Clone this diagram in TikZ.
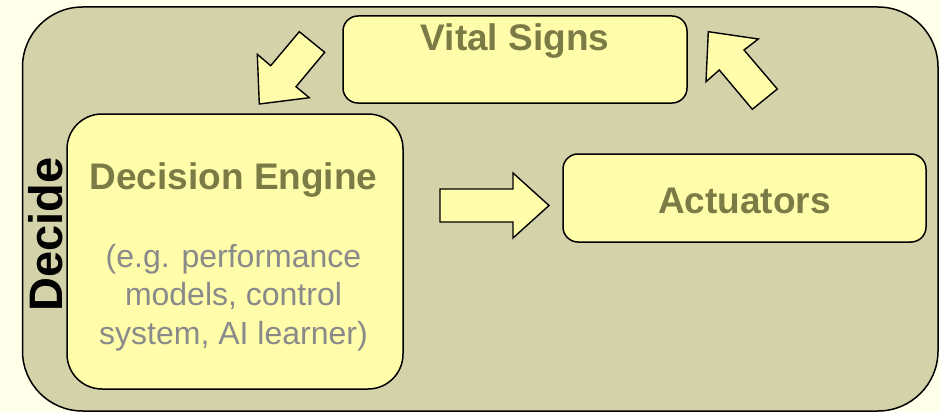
\documentclass[tikz,border=0pt]{standalone}
\usepackage{fontspec}
\setmainfont{Liberation Sans}

\definecolor{pagebg}{HTML}{FFFFEA}
\definecolor{panelfill}{HTML}{D4D2A9}
\definecolor{boxfill}{HTML}{FFFCAA}
\definecolor{titleink}{HTML}{7B7B46}
\definecolor{noteink}{HTML}{8A8A8A}

\tikzset{
  panel/.style={draw=black, line width=1.5pt, fill=panelfill, rounded corners=60pt, inner sep=0pt},
  stagebox/.style={draw=black, line width=1.5pt, fill=boxfill, inner sep=0pt},
  blockarrow/.style={draw=black, line width=1.4pt, fill=boxfill, line join=miter},
  title/.style={text=titleink, font=\fontsize{37}{44}\selectfont\bfseries, inner sep=0pt},
  note/.style={text=noteink, font=\fontsize{32}{38}\selectfont, inner sep=0pt},
  sidelabel/.style={text=black, font=\fontsize{47}{56}\selectfont\bfseries, inner sep=0pt}
}

\begin{document}
\begin{tikzpicture}[x=1pt, y=-1pt]
  \useasboundingbox (0,0) rectangle (940,412);
  \fill[pagebg] (0,0) rectangle (940,412);

  % outer "Decide" panel
  \node[panel, minimum width=915.5pt, minimum height=404pt] (panel) at (480.25,209) {};
  \node[sidelabel, rotate=90, anchor=base] (decide) at (62,234.5) {Decide};

  % stage boxes
  \node[stagebox, rounded corners=15pt, minimum width=344pt, minimum height=87pt] (vital) at (515,59.5) {};
  \node[stagebox, rounded corners=35pt, minimum width=336pt, minimum height=275pt] (engine) at (235,251.5) {};
  \node[stagebox, rounded corners=15pt, minimum width=363pt, minimum height=88pt] (act) at (744.5,198) {};

  % box texts
  \node[title, anchor=base] (vitaltxt) at (515,51) {Vital Signs};
  \node[title, anchor=base] (enginetxt) at (233.5,189) {Decision Engine};
  \node[title, anchor=base] (acttxt) at (744.5,213.5) {Actuators};
  \node[note, anchor=base] (eg1) at (233.5,267) {(e.g. performance};
  \node[note, anchor=base] (eg2) at (233.5,305.5) {models, control};
  \node[note, anchor=base] (eg3) at (233.5,344) {system, AI learner)};

  % block arrows of the loop
  \draw[blockarrow] (259.3,104) -- (257.3,54.3) -- (270.7,65.7) -- (299.3,31.7)
    -- (324.7,52.3) -- (296,86.7) -- (309.3,97.7) -- cycle;
  \draw[blockarrow] (440,189) -- (513,189) -- (513,173) -- (549,205.5)
    -- (513,238) -- (513,222) -- (440,222) -- cycle;
  \draw[blockarrow] (708.3,31.7) -- (758.3,39) -- (744,50) -- (777.3,89)
    -- (752.3,109.3) -- (719.3,70) -- (706,81.7) -- cycle;
\end{tikzpicture}
\end{document}
